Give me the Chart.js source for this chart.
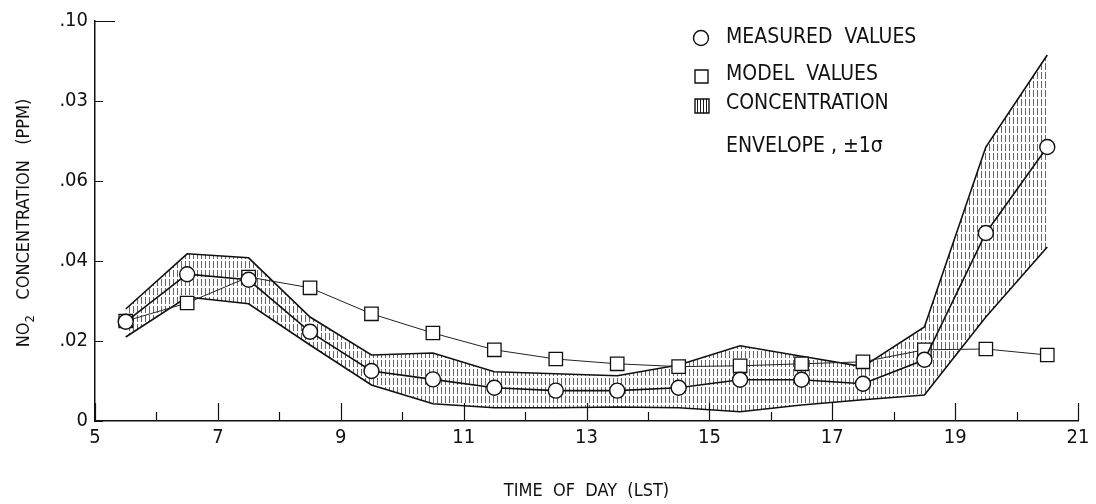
<!DOCTYPE html>
<html>
<head>
<meta charset="utf-8">
<script src="https://cdn.jsdelivr.net/npm/chart.js@4.4.0/dist/chart.umd.min.js"></script>
<style>
  html, body { margin: 0; padding: 0; background: #fff; }
  #wrap { width: 1096px; height: 504px; }
</style>
</head>
<body>
<div id="wrap"><canvas id="c" width="1096" height="504"></canvas></div>
<script>
// Hour of day (LST), half-hour centres
const hours = [5.5, 6.5, 7.5, 8.5, 9.5, 10.5, 11.5, 12.5, 13.5, 14.5, 15.5, 16.5, 17.5, 18.5, 19.5, 20.5];

// NO2 concentration, ppm
const measured = [0.0248, 0.0367, 0.0353, 0.0223, 0.0125, 0.0104, 0.0083, 0.0076, 0.0076, 0.0083, 0.0103, 0.0103, 0.0093, 0.0153, 0.0470, 0.0685];
const model    = [0.0250, 0.0295, 0.0360, 0.0333, 0.0268, 0.0220, 0.0178, 0.0155, 0.0143, 0.0136, 0.0138, 0.0143, 0.0148, 0.0178, 0.0180, 0.0165];
const envUpper = [0.0280, 0.0418, 0.0408, 0.0260, 0.0165, 0.0170, 0.0123, 0.0118, 0.0113, 0.0140, 0.0188, 0.0162, 0.0136, 0.0235, 0.0685, 0.0915];
const envLower = [0.0210, 0.0310, 0.0293, 0.0190, 0.0090, 0.0043, 0.0033, 0.0033, 0.0035, 0.0033, 0.0023, 0.0040, 0.0053, 0.0065, 0.0260, 0.0435];

// Axis ticks and their printed labels
const xTicks = [5, 7, 9, 11, 13, 15, 17, 19, 21];
const xTickLabels = ['5', '7', '9', '11', '13', '15', '17', '19', '21'];
const yTicks = [0, 0.02, 0.04, 0.06, 0.08, 0.10];
const yTickLabels = ['0', '.02', '.04', '.06', '.03', '.10'];

const legendLabels = ['MEASURED  VALUES', 'MODEL  VALUES', 'CONCENTRATION', 'ENVELOPE , \u00B11\u03C3'];
const xTitle = 'TIME  OF  DAY  (LST)';

const FONT = '"Liberation Sans Narrow", "DejaVu Sans Condensed", "Arial Narrow", sans-serif';
const INK = '#111';

const canvas = document.getElementById('c');
const ctx0 = canvas.getContext('2d');

// vertical-line hatching for the +/- 1 sigma band
function makeHatch(w, h, dash, alpha) {
  const p = document.createElement('canvas');
  p.width = w; p.height = h;
  const g = p.getContext('2d');
  g.fillStyle = 'rgba(0,0,0,' + alpha + ')';
  g.fillRect(1, 0, 1, dash);
  return ctx0.createPattern(p, 'repeat');
}
const bandHatch = makeHatch(4, 9, 7, 0.6);
const keyHatch = makeHatch(3, 20, 20, 0.9);

// inward tick marks on both axes
const axisTicks = {
  id: 'axisTicks',
  beforeDatasetsDraw(chart) {
    const { ctx, scales: { x, y } } = chart;
    ctx.save();
    ctx.strokeStyle = INK;
    ctx.lineWidth = 1.2;
    ctx.beginPath();
    for (let h = x.min; h <= x.max; h++) {
      const px = Math.round(x.getPixelForValue(h)) + 0.5;
      const len = (h % 2 === 1) ? 18 : 9;
      ctx.moveTo(px, y.bottom);
      ctx.lineTo(px, y.bottom - len);
    }
    yTicks.forEach(v => {
      const py = Math.round(y.getPixelForValue(v)) + 0.5;
      ctx.moveTo(x.left, py);
      ctx.lineTo(x.left + (v === 0.10 ? 20 : 8), py);
    });
    ctx.stroke();
    ctx.restore();
  }
};

// rotated y-axis title with subscript
const yTitle = {
  id: 'yTitle',
  afterDraw(chart) {
    const { ctx } = chart;
    ctx.save();
    ctx.translate(24, 223);
    ctx.rotate(-Math.PI / 2);
    ctx.fillStyle = INK;
    ctx.textBaseline = 'middle';
    const big = '18px ' + FONT, small = '13px ' + FONT;
    const rest = '   CONCENTRATION   (PPM)';
    ctx.font = big;
    const wNO = ctx.measureText('NO').width;
    const wRest = ctx.measureText(rest).width;
    ctx.font = small;
    const w2 = ctx.measureText('2').width;
    let xx = -(wNO + w2 + wRest) / 2;
    ctx.font = big;
    ctx.fillText('NO', xx, 0);
    xx += wNO;
    ctx.font = small;
    ctx.fillText('2', xx, 7);
    xx += w2;
    ctx.font = big;
    ctx.fillText(rest, xx, 0);
    ctx.restore();
  }
};

// key in the upper right
const keyBox = {
  id: 'keyBox',
  afterDraw(chart) {
    const { ctx } = chart;
    ctx.save();
    ctx.strokeStyle = INK;
    ctx.fillStyle = '#fff';
    ctx.lineWidth = 1.4;
    // circle
    ctx.beginPath();
    ctx.arc(701, 38, 7.5, 0, Math.PI * 2);
    ctx.fill(); ctx.stroke();
    // square
    ctx.beginPath();
    ctx.rect(695, 70, 13, 13);
    ctx.fill(); ctx.stroke();
    // hatched square
    ctx.fillStyle = keyHatch;
    ctx.fillRect(695, 99, 14, 14);
    ctx.beginPath();
    ctx.rect(695, 99, 14, 14);
    ctx.stroke();

    ctx.fillStyle = INK;
    ctx.font = '21px ' + FONT;
    ctx.textBaseline = 'middle';
    ctx.fillText(legendLabels[0], 726, 38);
    ctx.fillText(legendLabels[1], 726, 75);
    ctx.fillText(legendLabels[2], 726, 104);
    ctx.fillText(legendLabels[3], 726, 147);
    ctx.restore();
  }
};

const pts = arr => arr.map((v, i) => ({ x: hours[i], y: v }));

new Chart(canvas, {
  type: 'line',
  data: {
    datasets: [
      {
        label: 'Measured values',
        data: pts(measured),
        borderColor: INK,
        borderWidth: 1.6,
        pointStyle: 'circle',
        pointRadius: 7.5,
        pointBackgroundColor: '#fff',
        pointBorderColor: INK,
        pointBorderWidth: 1.4,
        fill: false,
        order: 0
      },
      {
        label: 'Model values',
        data: pts(model),
        borderColor: '#222',
        borderWidth: 1,
        pointStyle: 'rect',
        pointRadius: 9.5,
        pointBackgroundColor: '#fff',
        pointBorderColor: INK,
        pointBorderWidth: 1.3,
        fill: false,
        order: 1
      },
      {
        label: 'Envelope upper',
        data: pts(envUpper),
        borderColor: INK,
        borderWidth: 1.6,
        pointRadius: 0,
        backgroundColor: bandHatch,
        fill: '+1',
        order: 2
      },
      {
        label: 'Envelope lower',
        data: pts(envLower),
        borderColor: INK,
        borderWidth: 1.6,
        pointRadius: 0,
        fill: false,
        order: 3
      }
    ]
  },
  options: {
    responsive: false,
    animation: false,
    devicePixelRatio: 1,
    layout: { padding: { top: 21, right: 18, left: 0, bottom: 0 } },
    plugins: {
      legend: { display: false },
      tooltip: { enabled: false }
    },
    elements: { line: { tension: 0 } },
    scales: {
      x: {
        type: 'linear',
        min: 5,
        max: 21,
        afterFit(s) { s.height = 83; },
        afterBuildTicks(s) { s.ticks = xTicks.map(v => ({ value: v })); },
        ticks: {
          callback: (v, i) => xTickLabels[i],
          color: INK,
          padding: 5,
          maxRotation: 0,
          autoSkip: false,
          font: { family: FONT, size: 20 }
        },
        grid: { drawOnChartArea: false, drawTicks: false },
        border: { display: true, color: INK, width: 1.5 },
        title: {
          display: true,
          text: xTitle,
          color: INK,
          font: { family: FONT, size: 18 },
          padding: { top: 0, bottom: 2 }
        }
      },
      y: {
        type: 'linear',
        min: 0,
        max: 0.10,
        afterFit(s) { s.width = 95; },
        afterBuildTicks(s) { s.ticks = yTicks.map(v => ({ value: v })); },
        ticks: {
          callback: (v, i) => yTickLabels[i],
          color: INK,
          padding: 7,
          autoSkip: false,
          font: { family: FONT, size: 20 }
        },
        grid: { drawOnChartArea: false, drawTicks: false },
        border: { display: true, color: INK, width: 1.5 }
      }
    }
  },
  plugins: [axisTicks, yTitle, keyBox]
});
</script>
</body>
</html>
